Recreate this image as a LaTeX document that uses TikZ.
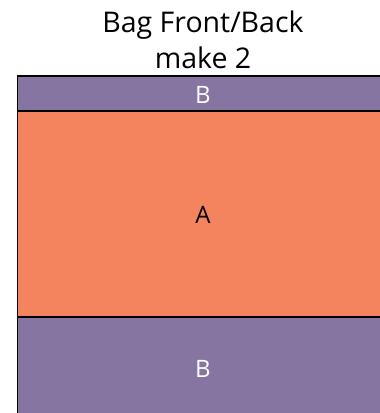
\documentclass[tikz,border=0pt]{standalone}
\usepackage{fontspec}
\setmainfont{Open Sans}
\definecolor{bagpurple}{RGB}{134,116,161}
\definecolor{bagorange}{RGB}{244,132,94}

\begin{document}
\begin{tikzpicture}[x=1pt,y=-1pt]

\tikzset{panel/.style={draw=black,line width=1.5pt},
  title/.style={font=\fontsize{28.5}{30}\selectfont,anchor=base},
  part/.style={font=\fontsize{24}{26}\selectfont}}

\useasboundingbox (0,0) rectangle (380,413);
\clip (0,0) rectangle (380,413);

\coordinate (TL) at (17.5,76);
\coordinate (AT) at (17.5,111);
\coordinate (AB) at (17.5,317);
\coordinate (BR) at (390,420);

\draw[panel,fill=bagpurple] (TL) rectangle (AT -| BR);
\draw[panel,fill=bagorange] (AT) rectangle (AB -| BR);
\draw[panel,fill=bagpurple] (AB) rectangle (BR);

\node[title] (head) at (203,32) {Bag Front/Back};
\node[title] (make) at (203,68) {make 2};

\node[part,white] (btop) at (203,95) {B};
\node[part,black] (a) at (203,215) {A};
\node[part,white] (bbot) at (203,369) {B};

\end{tikzpicture}
\end{document}
